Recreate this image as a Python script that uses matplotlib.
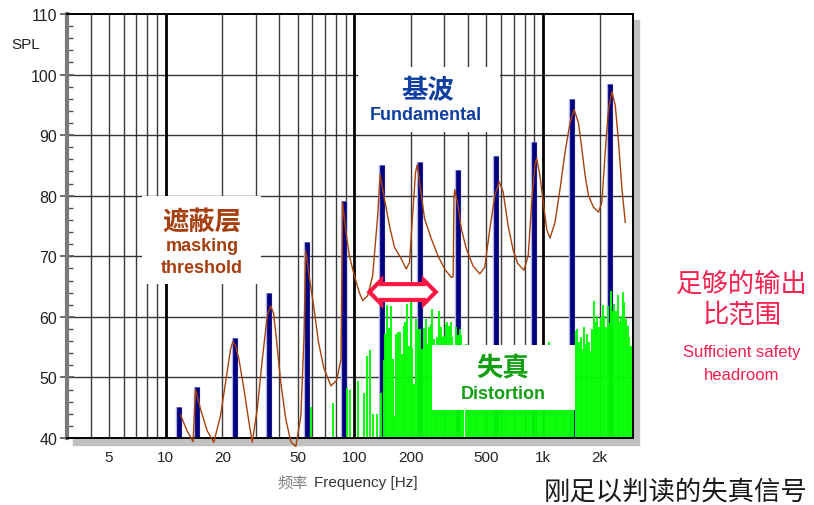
import numpy as np
import matplotlib
matplotlib.use('Agg')
import matplotlib.pyplot as plt
from matplotlib.patches import Rectangle
from matplotlib.ticker import MultipleLocator, NullLocator

plt.rcParams['font.family'] = ['Liberation Sans', 'Noto Sans CJK SC', 'DejaVu Sans']

# fundamental tones (blue bars)
fund_f = [11.7, 14.6, 23.4, 35.2, 55.8, 88.2, 140.9, 221.7, 354.3, 562, 896, 1421, 2253]
fund_db = [45.2, 48.4, 56.5, 64.0, 72.4, 79.1, 85.0, 85.6, 84.3, 86.6, 88.8, 95.9, 98.4]

# masking threshold curve (brown)
mask_f = [11.97, 12.98, 13.97, 14.39, 15.30, 16.59, 18.0, 19.54, 20.78, 22.09, 22.72, 23.5,
          24.45, 26.0, 27.64, 28.77, 30.6, 32.53, 34.57, 36.06, 37.3, 38.33, 40.74, 43.33,
          46.05, 49.0, 52.1, 54.2, 55.2, 56.2, 57.6, 61.2, 64.6, 69.0, 75.2, 80.5, 85.0,
          86.7, 90.3, 94.1, 100, 106.3, 110.7, 117.7, 125.1, 133, 137, 144.4, 153.6, 163.2,
          177.2, 188.4, 196.2, 204.2, 211.1, 215.6, 224.4, 235.6, 255.9, 277.4, 301, 326.9,
          334, 337.5, 340.4, 354.4, 369.3, 392.6, 425.9, 462.3, 491.4, 522.6, 555.4, 585.8,
          615.2, 654, 695, 735, 792.4, 835.3, 870.9, 907, 925.7, 963.8, 1004, 1046, 1089,
          1158, 1231, 1309, 1392, 1462, 1541, 1607, 1673, 1742, 1852, 1969, 2052, 2137,
          2225, 2320, 2416, 2515, 2622, 2731]
mask_db = [43.85, 41.2, 39.4, 48.0, 44.8, 41.2, 39.3, 43.7, 49.2, 54.7, 55.9, 55.2,
           53.0, 48.1, 42.6, 39.3, 44.8, 53.0, 60.2, 61.8, 60.6, 57.4, 49.2, 43.1,
           39.4, 38.6, 43.7, 57.4, 70.9, 69.5, 66.8, 61.3, 55.8, 51.5, 48.6, 49.5, 53.0,
           78.9, 74.0, 70.1, 66.8, 64.0, 62.7, 63.5, 66.8, 76.7, 83.5, 79.5, 75.0, 71.5,
           69.6, 67.9, 69.0, 77.3, 83.9, 85.1, 81.1, 76.2, 72.9, 70.1, 67.9, 66.5,
           66.6, 79.5, 81.0, 78.4, 74.5, 71.2, 68.4, 67.1, 68.2, 74.5, 80.0, 82.3,
           80.6, 75.0, 71.0, 68.8, 67.7, 70.1, 78.9, 85.0, 86.2, 83.3, 78.9, 74.5, 73.0,
           75.6, 81.1, 87.2, 92.1, 94.2, 92.1, 87.7, 83.3, 80.0, 78.1, 77.3, 78.9, 87.2,
           94.3, 97.2, 94.9, 88.8, 81.1, 75.6]

# distortion products (green bars), by band
dist_low_f = [59.3, 77.3, 91.4, 94.9, 104.1, 113.0, 117.3, 121.7, 126.2, 131.4, 138.7, 143.2]
dist_low_db = [45.2, 45.8, 48.3, 48.0, 49.4, 47.5, 53.5, 54.5, 43.9, 43.9, 47.5, 52.8]

dist_mid_f = [146.2, 148.5, 152.2, 156.7, 159.8, 163.3, 166.7, 170.0, 175.1, 178.5,
              182.9, 186.7, 190.7, 194.5, 198.6, 202.8, 206.8, 212.9, 217.1, 222.5,
              228.0, 233.7, 238.6, 243.6, 248.4, 253.6, 259.0, 264.1, 269.7, 275.4,
              280.8, 286.7, 292.8, 298.5, 304.8, 311.2, 317.4, 324.0, 330.8, 337.4,
              344.5, 354.4, 361.8, 369, 376.8, 392.8]
dist_mid_db = [57.2, 62.0, 58.1, 61.8, 53.0, 43.7, 57.2, 57.5, 57.5, 53.9,
               58.5, 59.1, 62.1, 55.2, 62.4, 54.8, 48.9, 59.6, 58.0, 58.0,
               54.7, 58.1, 59.6, 55.5, 58.3, 58.9, 61.3, 56.3, 55.2, 56.6,
               60.9, 58.3, 56.6, 56.9, 58.8, 59.2, 58.5, 59.2, 56.6, 55.2,
               58.3, 57.0, 58.0, 57.0, 53.6, 55.5]

dist_khz_f = [399, 408, 417, 426, 435, 444, 454, 464, 474, 484,
              495, 505, 516, 528, 539, 551, 563, 575, 588, 600,
              613, 627, 640, 654, 669, 683, 698, 713, 729, 745,
              761, 777, 794, 811, 829, 847, 865, 884, 903, 923,
              943, 963, 984, 1005, 1027, 1049, 1072, 1095, 1119, 1143,
              1168, 1193, 1219, 1246, 1273, 1300, 1328, 1357, 1387, 1417, 1447]
dist_khz_db = [54.5, 52.0, 50.5, 53.0, 48.5, 51.0, 54.0, 49.5, 52.5, 47.0,
               50.0, 53.5, 51.5, 48.0, 52.0, 54.5, 50.5, 46.5, 51.0, 53.0,
               49.0, 52.5, 50.0, 47.5, 53.5, 51.0, 48.5, 52.0, 54.0, 50.5,
               49.0, 53.0, 51.5, 47.0, 50.0, 52.5, 54.5, 49.5, 51.0, 53.5,
               48.0, 50.5, 52.0, 54.5, 49.0, 51.5, 55.8, 47.5, 50.0, 52.5,
               54.0, 51.0, 48.5, 53.5, 50.0, 52.0, 54.0, 49.5, 51.5, 53.0, 55.0]

dist_high_f = [1492, 1522, 1554, 1587, 1618, 1652, 1687, 1720, 1757, 1793,
               1829, 1867, 1907, 1945, 1986, 2027, 2068, 2111, 2156, 2198,
               2244, 2291, 2337, 2386, 2436, 2484, 2536, 2590, 2641, 2696,
               2754, 2808, 2868, 2939]
dist_high_db = [57.7, 58.0, 55.8, 56.6, 54.7, 58.4, 55.5, 57.2, 55.8, 54.4,
                58.0, 62.7, 59.1, 60.2, 58.3, 59.9, 62.0, 60.2, 58.3, 61.8,
                59.0, 64.3, 61.0, 62.1, 60.9, 63.6, 59.1, 60.2, 64.1, 62.4,
                59.6, 58.5, 56.6, 55.2]

xtick_vals = [5, 10, 20, 50, 100, 200, 500, 1000, 2000]
xtick_labels = ['5', '10', '20', '50', '100', '200', '500', '1k', '2k']

W, H = 814, 506
fig = plt.figure(figsize=(W / 100, H / 100), dpi=100)
ax = fig.add_axes([67 / W, 1 - 439 / H, 566 / W, 424 / H])

# drop shadow behind the plot frame
fig.add_artist(Rectangle((73 / W, 1 - 446 / H), 566 / W, 425 / H,
                         transform=fig.transFigure, color='#c0c0c0', zorder=-1))

ax.set_xscale('log')
ax.set_xlim(3, 3000)
ax.set_ylim(40, 110)

# grid
minor_lines = [m * d for d in (1, 10, 100, 1000) for m in range(2, 10) if 3 <= m * d <= 3000]
for f in minor_lines:
    ax.axvline(f, color='#3c3c3c', lw=1.0, zorder=0.5)
for f in (10, 100, 1000):
    ax.axvline(f, color='black', lw=2.0, zorder=0.6)
for y in range(50, 110, 10):
    ax.axhline(y, color='#333333', lw=1.0, zorder=0.5)

# fundamentals
ax.vlines(fund_f, 40, fund_db, color='#b4b4e6', lw=4.6, zorder=2)
ax.vlines(fund_f, 40, fund_db, color='#00007f', lw=3.4, zorder=2.1)

# distortion
for fl, dl in ((dist_low_f, dist_low_db), (dist_mid_f, dist_mid_db),
               (dist_khz_f, dist_khz_db), (dist_high_f, dist_high_db)):
    ax.vlines(fl, 40, dl, color='#00ff00', lw=1.35, zorder=2.5)

# masking threshold
ax.plot(mask_f, mask_db, color='#a8420c', lw=1.0, zorder=3, clip_on=False)

# white label boxes
for x0, x1, y0, y1 in ((142, 261, 285, 197), (358, 500, 133, 68), (432, 575, 411, 346)):
    ax.add_patch(Rectangle(((x0 - 67) / 566, (439 - y0) / 424), (x1 - x0) / 566, (y0 - y1) / 424,
                           transform=ax.transAxes, fc='white', ec='none', zorder=4))

cjk = ['Noto Sans CJK SC', 'DejaVu Sans']
brown = '#a63e0e'
ax.text(0.2385, 0.512, '遮蔽层', transform=ax.transAxes, ha='center', va='center',
        fontsize=19, color=brown, family=cjk, weight='bold', zorder=5)
ax.text(0.2385, 0.455, 'masking', transform=ax.transAxes, ha='center', va='center',
        fontsize=13, color=brown, weight='bold', zorder=5)
ax.text(0.2385, 0.401, 'threshold', transform=ax.transAxes, ha='center', va='center',
        fontsize=13, color=brown, weight='bold', zorder=5)

blue = '#0f3fa0'
ax.text(0.638, 0.821, '基波', transform=ax.transAxes, ha='center', va='center',
        fontsize=19, color=blue, family=cjk, weight='bold', zorder=5)
ax.text(0.634, 0.762, 'Fundamental', transform=ax.transAxes, ha='center', va='center',
        fontsize=13, color=blue, weight='bold', zorder=5)

green = '#12a012'
ax.text(0.770, 0.165, '失真', transform=ax.transAxes, ha='center', va='center',
        fontsize=19, color=green, family=cjk, weight='bold', zorder=5)
ax.text(0.770, 0.104, 'Distortion', transform=ax.transAxes, ha='center', va='center',
        fontsize=13, color=green, weight='bold', zorder=5)

# headroom marker
ax.text(180, 64.1, '\u2003\u2003\u2003\u2003\u2003', ha='center', va='center', fontsize=7,
        zorder=6, bbox=dict(boxstyle='darrow,pad=0.3', fc='white', ec='#ff1744', lw=3))

# axes styling
ax.set_xticks(xtick_vals)
ax.set_xticklabels(xtick_labels)
ax.xaxis.set_minor_locator(NullLocator())
ax.tick_params(axis='x', which='both', length=0, labelsize=11, pad=9, labelcolor='#222222')
ax.set_yticks(range(40, 111, 10))
ax.yaxis.set_minor_locator(MultipleLocator(2))
ax.tick_params(axis='y', which='major', direction='inout', length=10, width=1.2,
               color='#555555', labelsize=11.5, pad=2, labelcolor='#222222')
ax.tick_params(axis='y', which='minor', direction='in', length=4.5, width=1.0, color='#555555')
ax.spines['left'].set_color('#7a7a7a')
ax.spines['left'].set_linewidth(3)
for s in ('top', 'right', 'bottom'):
    ax.spines[s].set_color('black')
    ax.spines[s].set_linewidth(1.4)

fig.text(11 / W, 1 - 45 / H, 'SPL', fontsize=11, ha='left', va='center', color='#222222')
fig.text(308 / W, 1 - 483 / H, '频率', fontsize=11, ha='right', va='center',
         color='#808080', family=cjk)
fig.text(314 / W, 1 - 483 / H, 'Frequency [Hz]', fontsize=11, ha='left', va='center',
         color='#333333')

red = '#f5204e'
fig.text(742 / W, 1 - 284 / H, '足够的输出', fontsize=19, ha='center', va='center',
         color=red, family=cjk)
fig.text(742 / W, 1 - 315 / H, '比范围', fontsize=19, ha='center', va='center',
         color=red, family=cjk)
fig.text(742 / W, 1 - 353 / H, 'Sufficient safety', fontsize=12, ha='center', va='center',
         color=red)
fig.text(742 / W, 1 - 376 / H, 'headroom', fontsize=12, ha='center', va='center', color=red)
fig.text(676 / W, 1 - 493 / H, '刚足以判读的失真信号', fontsize=19, ha='center', va='center',
         color='#1a1a1a', family=cjk)

fig.savefig('out.png', dpi=100)
